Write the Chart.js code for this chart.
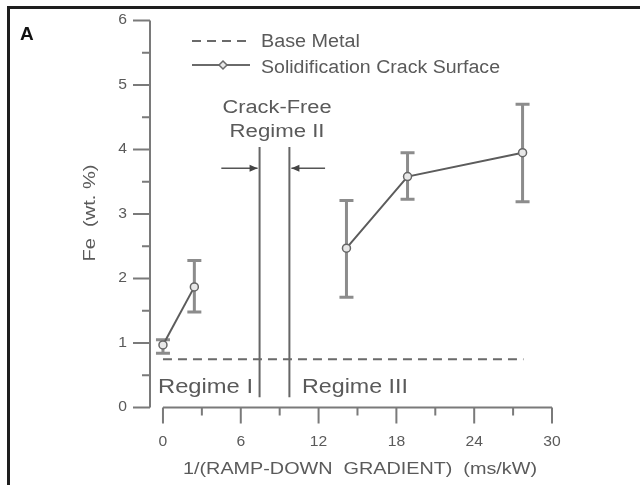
<!DOCTYPE html>
<html>
<head>
<meta charset="utf-8">
<script src="https://cdn.jsdelivr.net/npm/chart.js@4"></script>
<style>
  html, body { margin: 0; padding: 0; background: #fff; }
  canvas { display: block; }
</style>
</head>
<body>
<canvas id="grafico" width="640" height="485"></canvas>
<script>
// valores
const feX    = [0, 2.42, 14.15, 18.86, 27.73];
const feY    = [0.97, 1.87, 2.47, 3.58, 3.95];
const feLow  = [0.84, 1.48, 1.71, 3.23, 3.19];
const feHigh = [1.05, 2.28, 3.21, 3.95, 4.70];

const baseMetal = 0.75;
const baseMetalX = [0, 27.8];

const regimeBounds = [7.45, 9.75];
const boundsY = [0.16, 4.04];
const arrowY = 3.71;
const arrowFrom = [4.5, 12.5];

const xTicks = [0, 6, 12, 18, 24, 30];
const xMinor = [3, 9, 15, 21, 27];
const yTicks = [0, 1, 2, 3, 4, 5, 6];
const yMinor = [0.5, 1.5, 2.5, 3.5, 4.5, 5.5];

const FONT = '"Liberation Sans", Arial, sans-serif';
const TXT = "#5a5a5a";
const LINHA = "#6a6a6a";

// texto com largura ajustada (a figura original é um pouco esticada na horizontal)
function texto(ctx, t, x, y, size, width, align, rot) {
  ctx.save();
  ctx.font = `${size}px ${FONT}`;
  const w = ctx.measureText(t).width;
  ctx.translate(x, y);
  if (rot) ctx.rotate(rot);
  ctx.scale(width / w, 1);
  ctx.textAlign = align || "left";
  ctx.fillText(t, 0, 0);
  ctx.restore();
}

function esticado(ctx, t, x, y, size, align) {
  ctx.font = `${size}px ${FONT}`;
  texto(ctx, t, x, y, size, ctx.measureText(t).width * 1.12, align);
}

const barrasErro = {
  id: "barrasErro",
  beforeDatasetsDraw(chart) {
    const { ctx, scales: { x, y } } = chart;
    ctx.save();
    ctx.strokeStyle = "#8c8c8c";
    ctx.lineWidth = 3;
    feX.forEach((v, i) => {
      const px = x.getPixelForValue(v);
      const top = y.getPixelForValue(feHigh[i]);
      const bot = y.getPixelForValue(feLow[i]);
      ctx.beginPath();
      ctx.moveTo(px, top); ctx.lineTo(px, bot);
      ctx.moveTo(px - 7, top); ctx.lineTo(px + 7, top);
      ctx.moveTo(px - 7, bot); ctx.lineTo(px + 7, bot);
      ctx.stroke();
    });
    ctx.restore();
  }
};

const eixos = {
  id: "eixos",
  afterDraw(chart) {
    const { ctx, scales: { x, y } } = chart;
    const x0 = chart.chartArea.left;
    const y0 = y.getPixelForValue(0);
    ctx.save();
    ctx.strokeStyle = "#7a7a7a";
    ctx.lineWidth = 2;
    ctx.beginPath();
    ctx.moveTo(x0, y.getPixelForValue(6)); ctx.lineTo(x0, y0);
    yTicks.forEach(v => { const p = y.getPixelForValue(v); ctx.moveTo(x0, p); ctx.lineTo(x0 - 17, p); });
    yMinor.forEach(v => { const p = y.getPixelForValue(v); ctx.moveTo(x0, p); ctx.lineTo(x0 - 8, p); });
    ctx.moveTo(x.getPixelForValue(0), y0); ctx.lineTo(x.getPixelForValue(30), y0);
    xTicks.forEach(v => { const p = x.getPixelForValue(v); ctx.moveTo(p, y0); ctx.lineTo(p, y0 + 16); });
    xMinor.forEach(v => { const p = x.getPixelForValue(v); ctx.moveTo(p, y0); ctx.lineTo(p, y0 + 8); });
    ctx.stroke();

    ctx.fillStyle = TXT;
    ctx.textBaseline = "middle";
    yTicks.forEach(v => esticado(ctx, String(v), 127, y.getPixelForValue(v), 14, "right"));
    xTicks.forEach(v => esticado(ctx, String(v), x.getPixelForValue(v), 442, 14, "center"));
    texto(ctx, "1/(RAMP-DOWN  GRADIENT)  (ms/kW)", 360, 470, 16, 354, "center");
    texto(ctx, "Fe  (wt. %)", 90, 213, 17, 97, "center", -Math.PI / 2);

    // anotações
    ctx.textBaseline = "alphabetic";
    texto(ctx, "Crack-Free", 277, 113, 18, 109, "center");
    texto(ctx, "Regime II", 277, 137, 18, 95, "center");
    texto(ctx, "Regime I", 158, 393, 21, 95, "left");
    texto(ctx, "Regime III", 302, 393, 21, 106, "left");

    // setas
    const ay = y.getPixelForValue(arrowY);
    const l = x.getPixelForValue(regimeBounds[0]) - 2;
    const r = x.getPixelForValue(regimeBounds[1]) + 2;
    ctx.strokeStyle = "#555";
    ctx.fillStyle = "#444";
    ctx.lineWidth = 1.5;
    ctx.beginPath();
    ctx.moveTo(x.getPixelForValue(arrowFrom[0]), ay); ctx.lineTo(l, ay);
    ctx.moveTo(x.getPixelForValue(arrowFrom[1]), ay); ctx.lineTo(r, ay);
    ctx.stroke();
    ctx.beginPath();
    ctx.moveTo(l, ay); ctx.lineTo(l - 8, ay - 3.5); ctx.lineTo(l - 8, ay + 3.5); ctx.closePath();
    ctx.moveTo(r, ay); ctx.lineTo(r + 8, ay - 3.5); ctx.lineTo(r + 8, ay + 3.5); ctx.closePath();
    ctx.fill();

    // legenda
    ctx.strokeStyle = LINHA;
    ctx.lineWidth = 2;
    ctx.setLineDash([9, 6]);
    ctx.beginPath(); ctx.moveTo(192, 41); ctx.lineTo(250, 41); ctx.stroke();
    ctx.setLineDash([]);
    ctx.beginPath(); ctx.moveTo(192, 65); ctx.lineTo(250, 65); ctx.stroke();
    ctx.fillStyle = "#e8e8e8";
    ctx.lineWidth = 1.5;
    ctx.beginPath(); ctx.moveTo(223, 61); ctx.lineTo(227, 65); ctx.lineTo(223, 69); ctx.lineTo(219, 65); ctx.closePath();
    ctx.fill(); ctx.stroke();
    ctx.fillStyle = TXT;
    texto(ctx, "Base Metal", 261, 47, 18, 99, "left");
    texto(ctx, "Solidification Crack Surface", 261, 73, 18, 239, "left");

    // moldura e letra
    ctx.strokeStyle = "#1e1e1e";
    ctx.lineWidth = 3;
    ctx.beginPath(); ctx.moveTo(8.5, 490); ctx.lineTo(8.5, 7.5); ctx.lineTo(645, 7.5); ctx.stroke();
    ctx.fillStyle = "#111";
    ctx.font = `bold 19px ${FONT}`;
    ctx.fillText("A", 20, 40);
    ctx.restore();
  }
};

// a linha não atravessa a faixa sem trincas (Regime II)
const cruzaRegimeII = c => c.p0.parsed.x < regimeBounds[0] && c.p1.parsed.x > regimeBounds[1];

new Chart(document.getElementById("grafico"), {
  type: "scatter",
  data: {
    datasets: [
      {
        label: "Solidification Crack Surface",
        data: feX.map((v, i) => ({ x: v, y: feY[i] })),
        showLine: true,
        borderColor: "#5c5c5c",
        borderWidth: 2,
        segment: { borderColor: c => cruzaRegimeII(c) ? "rgba(0,0,0,0)" : undefined },
        pointRadius: 4,
        pointBackgroundColor: "#e8e8e8",
        pointBorderColor: "#666",
        pointBorderWidth: 1.5
      },
      {
        label: "Base Metal",
        data: baseMetalX.map(v => ({ x: v, y: baseMetal })),
        showLine: true,
        borderColor: LINHA,
        borderWidth: 2,
        borderDash: [9, 6],
        pointRadius: 0
      },
      ...regimeBounds.map(b => ({
        label: "limite",
        data: boundsY.map(v => ({ x: b, y: v })),
        showLine: true,
        borderColor: "#666",
        borderWidth: 2,
        pointRadius: 0
      }))
    ]
  },
  options: {
    responsive: false,
    animation: false,
    devicePixelRatio: 1,
    layout: { padding: { left: 150, right: 88, top: 20.5, bottom: 77.5 } },
    plugins: { legend: { display: false }, tooltip: { enabled: false } },
    scales: {
      x: { type: "linear", min: -1, max: 30, display: false },
      y: { type: "linear", min: 0, max: 6, display: false }
    }
  },
  plugins: [barrasErro, eixos]
});
</script>
</body>
</html>
